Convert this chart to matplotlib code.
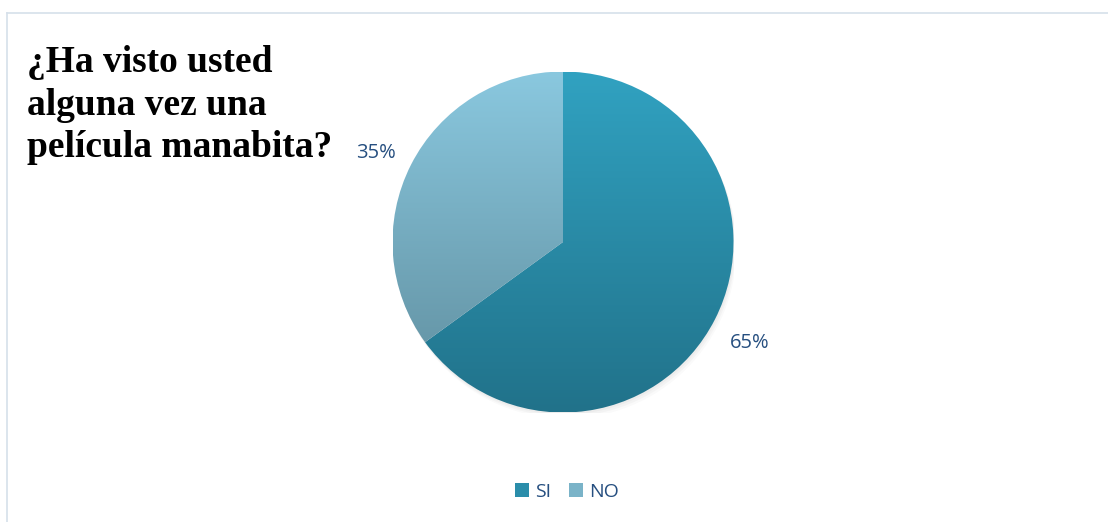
import numpy as np
import matplotlib
matplotlib.use("Agg")
import matplotlib.pyplot as plt
from matplotlib.colors import LinearSegmentedColormap
from matplotlib.lines import Line2D
from matplotlib.patches import Patch, Circle
from matplotlib.transforms import offset_copy

# data
labels = ["SI", "NO"]
values = [65, 35]
title = "¿Ha visto usted\nalguna vez una\npelícula manabita?"

# top/bottom colours of each slice's vertical gradient
grad_top = ["#31A2C1", "#8AC8DF"]
grad_bot = ["#21728A", "#5E8C9C"]
solid = ["#2A8DAA", "#7AB3C8"]
text_col = "#264F80"

fig = plt.figure(figsize=(11.08, 5.22), dpi=100)
fig.patch.set_facecolor("white")

# thin frame (only top and left edges show in the original)
W, H = 1108, 522
fig.add_artist(Line2D([7 / W, 1.0], [1 - 13 / H, 1 - 13 / H],
                      transform=fig.transFigure, color="#D6E0EA", lw=1.2))
fig.add_artist(Line2D([7 / W, 7 / W], [0.0, 1 - 13 / H],
                      transform=fig.transFigure, color="#D6E0EA", lw=1.2))

# pie axes: centre (563, 242) px, radius ~170 px
cx, cy, r = 563 / W, 1 - 242 / H, 170.5
ax = fig.add_axes([cx - r / W, cy - r / H, 2 * r / W, 2 * r / H])
ax.set_xlim(-1, 1)
ax.set_ylim(-1, 1)
ax.set_aspect("equal")
ax.axis("off")

# soft shadow
for k, a in enumerate([0.05, 0.05, 0.04]):
    ax.add_patch(Circle((0.006 * (k + 1), -0.012 * (k + 1)), 1.0,
                        color="#808080", alpha=a, lw=0, zorder=0))

wedges, _, autotexts = ax.pie(
    values, startangle=90, counterclock=False, radius=1.0,
    colors=solid, autopct="%1.0f%%", pctdistance=1.23,
    wedgeprops=dict(linewidth=0),
    textprops=dict(color=text_col, fontsize=14.5, family="Open Sans"),
)
for t in autotexts:
    t.set_clip_on(False)
    t.set_transform(offset_copy(t.get_transform(), fig=fig, y=-6, units="dots"))

grad = np.linspace(0, 1, 256).reshape(-1, 1)
for w, top, bot in zip(wedges, grad_top, grad_bot):
    cmap = LinearSegmentedColormap.from_list("g", [top, bot])
    im = ax.imshow(grad, cmap=cmap, extent=(-1, 1, -1, 1), aspect="auto",
                   origin="upper", zorder=2)
    im.set_clip_path(w)
    w.set_alpha(0)
ax.set_xlim(-1, 1)
ax.set_ylim(-1, 1)

# baseline alignment uses the last line of a multi-line text
fig.text(27 / W, 1 - 157 / H, title, ha="left", va="baseline",
         family="Liberation Serif", fontweight="bold", fontsize=27,
         linespacing=1.27, color="black")

handles = [Patch(facecolor=c, edgecolor="none") for c in solid]
fig.legend(handles, labels, loc="center", bbox_to_anchor=(567 / W, 1 - 492 / H),
           ncol=2, frameon=False, handlelength=0.75, handleheight=0.75,
           handletextpad=0.3, columnspacing=0.9,
           prop=dict(family="Open Sans", size=14), labelcolor=text_col)

fig.savefig("out.png", dpi=100, facecolor="white")
